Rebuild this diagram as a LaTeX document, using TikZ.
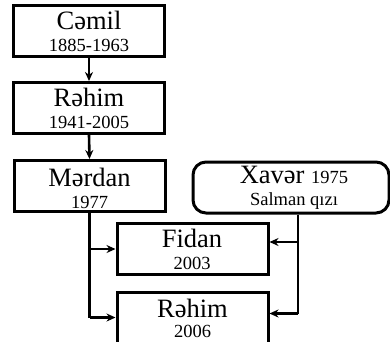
\documentclass[tikz,border=0pt]{standalone}
\usepackage{fontspec}
\setmainfont{Liberation Serif}
\usetikzlibrary{arrows.meta,calc}
\tikzset{
  box/.style={draw, line width=3pt, rectangle, minimum width=151pt, minimum height=51pt, inner sep=0pt},
  rbox/.style={box, rounded corners=13pt, minimum width=196pt},
  nm/.style={anchor=base, inner sep=0pt, font=\fontsize{26.5}{26}\selectfont},
  yr/.style={anchor=base, inner sep=0pt, font=\fontsize{18.5}{18}\selectfont},
  conn/.style={line width=2.6pt, -{Stealth[length=9pt,width=8pt]}},
  plain/.style={line width=2.6pt}
}
\begin{document}
\begin{tikzpicture}[x=1pt,y=-1pt]
\path[use as bounding box] (0,0) rectangle (390,341);
\fill[white] (0,0) rectangle (390,341);
\begin{scope}
\clip (0,0) rectangle (390,341);
\node[box] (c) at (89,30.5) {};
\node[box] (r1) at (89,108) {};
\node[box] (m) at (89.5,186) {};
\node[rbox] (x) at (291,187.5) {};
\node[box] (f) at (192.5,249) {};
\node[box] (r2) at (192.5,317.5) {};
\end{scope}
\node[nm] (ct) at (89,29) {Cəmil};
\node[yr] (cy) at (89,51) {1885-1963};
\node[nm] (r1t) at (89,106) {Rəhim};
\node[yr] (r1y) at (89,128) {1941-2005};
\node[nm] (mt) at (89.5,186.5) {Mərdan};
\node[yr] (my) at (89.5,208) {1977};
\node[nm] (xt) at (294,183) {Xavər {\fontsize{18.5}{18}\selectfont 1975}};
\node[yr] (xy) at (294,205) {Salman qızı};
\node[nm] (ft) at (192,247) {Fidan};
\node[yr] (fy) at (192,269) {2003};
\node[nm] (r2t) at (192.5,317) {Rəhim};
\node[yr] (r2y) at (192.5,337.5) {2006};
\draw[conn] (c.south) -- (r1.north);
\draw[conn] (r1.south) -- (m.north);
\coordinate (xb) at ($(x.south)+(7,0)$);
\coordinate (fe) at ($(f.east)+(0,-7)$);
\coordinate (re) at ($(r2.east)+(0,-4)$);
\draw[plain] (m.south) -- (m.south |- r2.west);
\draw[conn] (m.south |- f.west) -- (f.west);
\draw[conn] (m.south |- r2.west) -- (r2.west);
\draw[plain] (xb) -- (xb |- re);
\draw[conn] (xb |- fe) -- (fe);
\draw[conn] (xb |- re) -- (re);
\end{tikzpicture}
\end{document}
